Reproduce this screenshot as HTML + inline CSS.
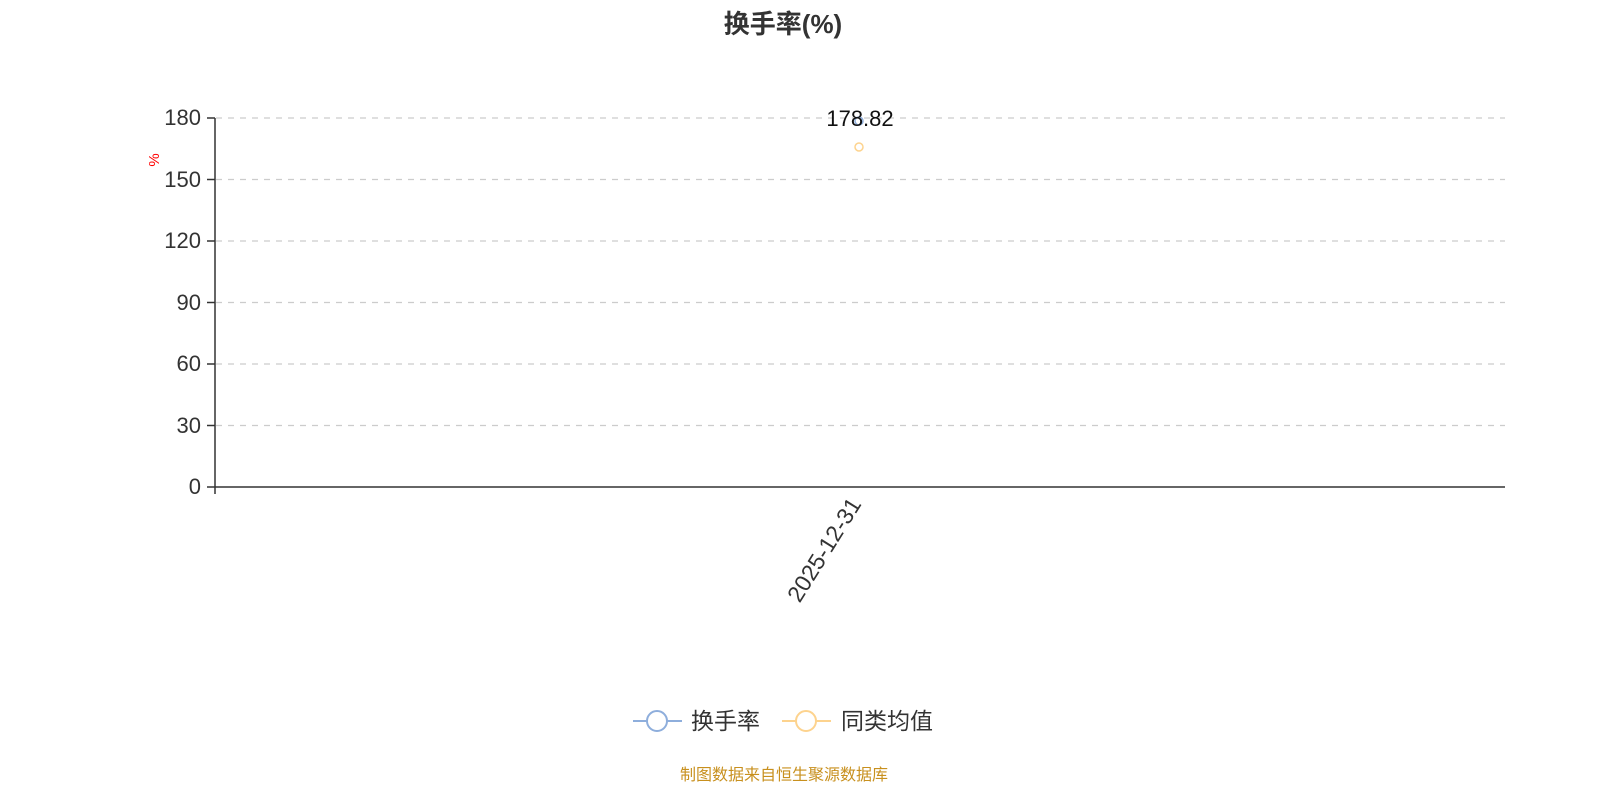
<!DOCTYPE html>
<html><head><meta charset="utf-8"><style>
html,body{margin:0;padding:0;background:#fff;}
svg{display:block;font-family:"Liberation Sans","Noto Sans CJK SC",sans-serif;}
</style></head><body>
<svg width="1600" height="800" viewBox="0 0 1600 800">
<text x="783" y="33" text-anchor="middle" font-size="26" font-weight="bold" fill="#333">换手率(%)</text>
<g stroke="#ccc" stroke-dasharray="6,6" stroke-width="1.3">
<line x1="216" y1="118" x2="1505" y2="118"/>
<line x1="216" y1="179.5" x2="1505" y2="179.5"/>
<line x1="216" y1="241" x2="1505" y2="241"/>
<line x1="216" y1="302.5" x2="1505" y2="302.5"/>
<line x1="216" y1="364" x2="1505" y2="364"/>
<line x1="216" y1="425.5" x2="1505" y2="425.5"/>
</g>
<g stroke="#333" stroke-width="1.5">
<line x1="215" y1="118" x2="215" y2="494"/>
<line x1="215" y1="487" x2="1505" y2="487"/>
<line x1="207" y1="118" x2="215" y2="118"/>
<line x1="207" y1="179.5" x2="215" y2="179.5"/>
<line x1="207" y1="241" x2="215" y2="241"/>
<line x1="207" y1="302.5" x2="215" y2="302.5"/>
<line x1="207" y1="364" x2="215" y2="364"/>
<line x1="207" y1="425.5" x2="215" y2="425.5"/>
<line x1="207" y1="487" x2="215" y2="487"/>
</g>
<g font-size="22" fill="#333" text-anchor="end">
<text x="201" y="125">180</text>
<text x="201" y="187">150</text>
<text x="201" y="248">120</text>
<text x="201" y="310">90</text>
<text x="201" y="371">60</text>
<text x="201" y="433">30</text>
<text x="201" y="494">0</text>
</g>
<text transform="translate(159,160) rotate(-90)" text-anchor="middle" font-size="15" fill="red">%</text>
<text transform="translate(862,504) rotate(-58)" text-anchor="end" font-size="23" fill="#333">2025-12-31</text>
<circle cx="859" cy="121" r="4" fill="#fff" stroke="#8eaedc" stroke-width="1.5"/>
<circle cx="859" cy="147" r="4" fill="#fff" stroke="#fdd38e" stroke-width="1.5"/>
<text x="860" y="126" text-anchor="middle" font-size="22" fill="#111">178.82</text>
<line x1="633" y1="721" x2="682" y2="721" stroke="#8eaedc" stroke-width="2"/>
<circle cx="657" cy="721" r="10" fill="#fff" stroke="#8eaedc" stroke-width="2"/>
<text x="691" y="729" font-size="23" fill="#333">换手率</text>
<line x1="782" y1="721" x2="831" y2="721" stroke="#fdd38e" stroke-width="2"/>
<circle cx="806" cy="721" r="10" fill="#fff" stroke="#fdd38e" stroke-width="2"/>
<text x="841" y="729" font-size="23" fill="#333">同类均值</text>
<text x="784" y="780" text-anchor="middle" font-size="16" fill="#c8901e">制图数据来自恒生聚源数据库</text>
</svg>
</body></html>
